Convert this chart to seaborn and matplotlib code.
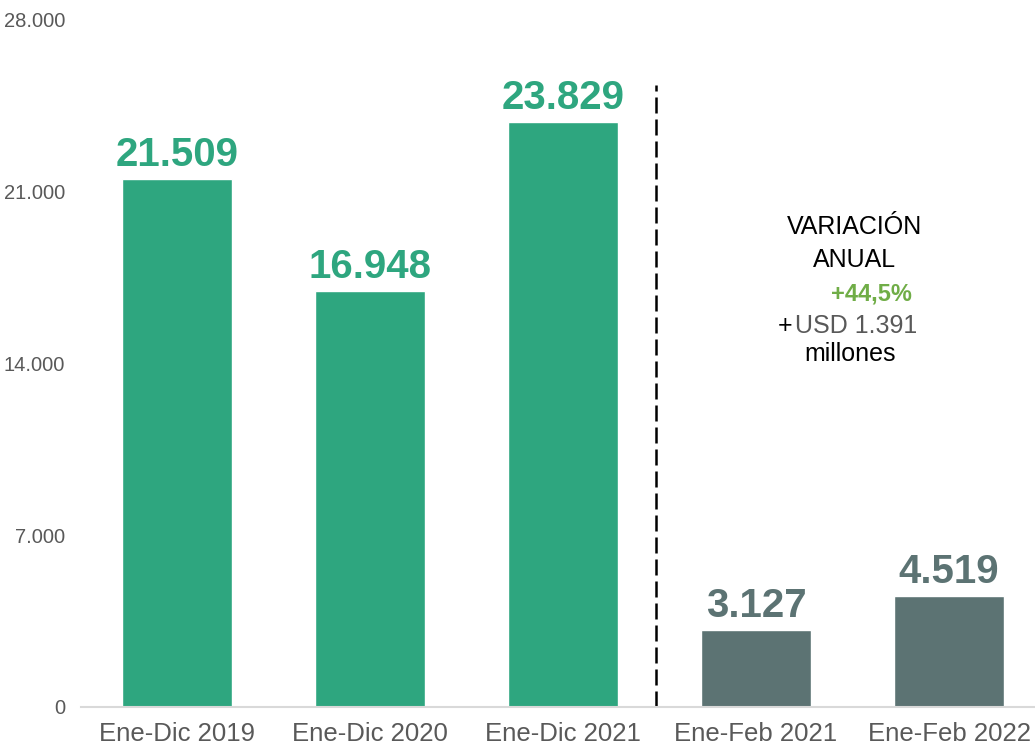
import matplotlib
matplotlib.use("Agg")
import matplotlib.pyplot as plt
import seaborn as sns
import pandas as pd

categories = ["Ene-Dic 2019", "Ene-Dic 2020", "Ene-Dic 2021", "Ene-Feb 2021", "Ene-Feb 2022"]
values = [21509, 16948, 23829, 3127, 4519]
value_labels = ["21.509", "16.948", "23.829", "3.127", "4.519"]
yticks = [0, 7000, 14000, 21000, 28000]
ytick_labels = ["0", "7.000", "14.000", "21.000", "28.000"]

GREEN = "#2EA67F"
GRAY = "#5C7373"
bar_colors = [GREEN, GREEN, GREEN, GRAY, GRAY]

sns.set_style("white")
plt.rcParams["font.family"] = ["Liberation Sans", "DejaVu Sans"]

fig = plt.figure(figsize=(10.35, 7.52), dpi=100)
ax = fig.add_axes([80.5 / 1035, 45 / 752, 965 / 1035, 687 / 752])

df = pd.DataFrame({"cat": categories, "val": values})
sns.barplot(data=df, x="cat", y="val", hue="cat", palette=bar_colors,
            width=0.57, legend=False, ax=ax, saturation=1)

ax.set_ylim(0, 28000)
ax.set_xlim(-0.5, 4.5)
ax.set_yticks(yticks)
ax.set_yticklabels(ytick_labels)
ax.set_xlabel("")
ax.set_ylabel("")
ax.tick_params(axis="y", length=0, pad=11, labelsize=14.5, labelcolor="#595959")
ax.tick_params(axis="x", length=0, pad=11, labelsize=18.5, labelcolor="#595959")

for s in ["left", "right", "top"]:
    ax.spines[s].set_visible(False)
ax.spines["bottom"].set_color("#D9D9D9")
ax.spines["bottom"].set_linewidth(1.5)

for i, cont in enumerate(ax.containers):
    for bar in cont:
        idx = int(round(bar.get_x() + bar.get_width() / 2))
        ax.annotate(value_labels[idx], (bar.get_x() + bar.get_width() / 2, bar.get_height()),
                    xytext=(0, 4), textcoords="offset points", ha="center", va="bottom",
                    fontsize=29, fontweight="bold", color=bar_colors[idx])

ax.plot([2.48, 2.48], [0, 25350], linestyle=(0, (6.4, 2.4)), color="black", linewidth=1.8)

ax.text(3.51, 19563, "VARIACIÓN", ha="center", va="center", fontsize=18, color="black")
ax.text(3.51, 18218, "ANUAL", ha="center", va="center", fontsize=18, color="black")
ax.text(3.6, 16833, "+44,5%", ha="center", va="center", fontsize=17, fontweight="bold", color="#70AD47")
ax.text(3.15, 15528, "+", ha="center", va="center", fontsize=18, color="black")
ax.text(3.52, 15528, "USD 1.391", ha="center", va="center", fontsize=18, color="#595959")
ax.text(3.49, 14387, "millones", ha="center", va="center", fontsize=18, color="black")

fig.savefig("out.png", dpi=100)
